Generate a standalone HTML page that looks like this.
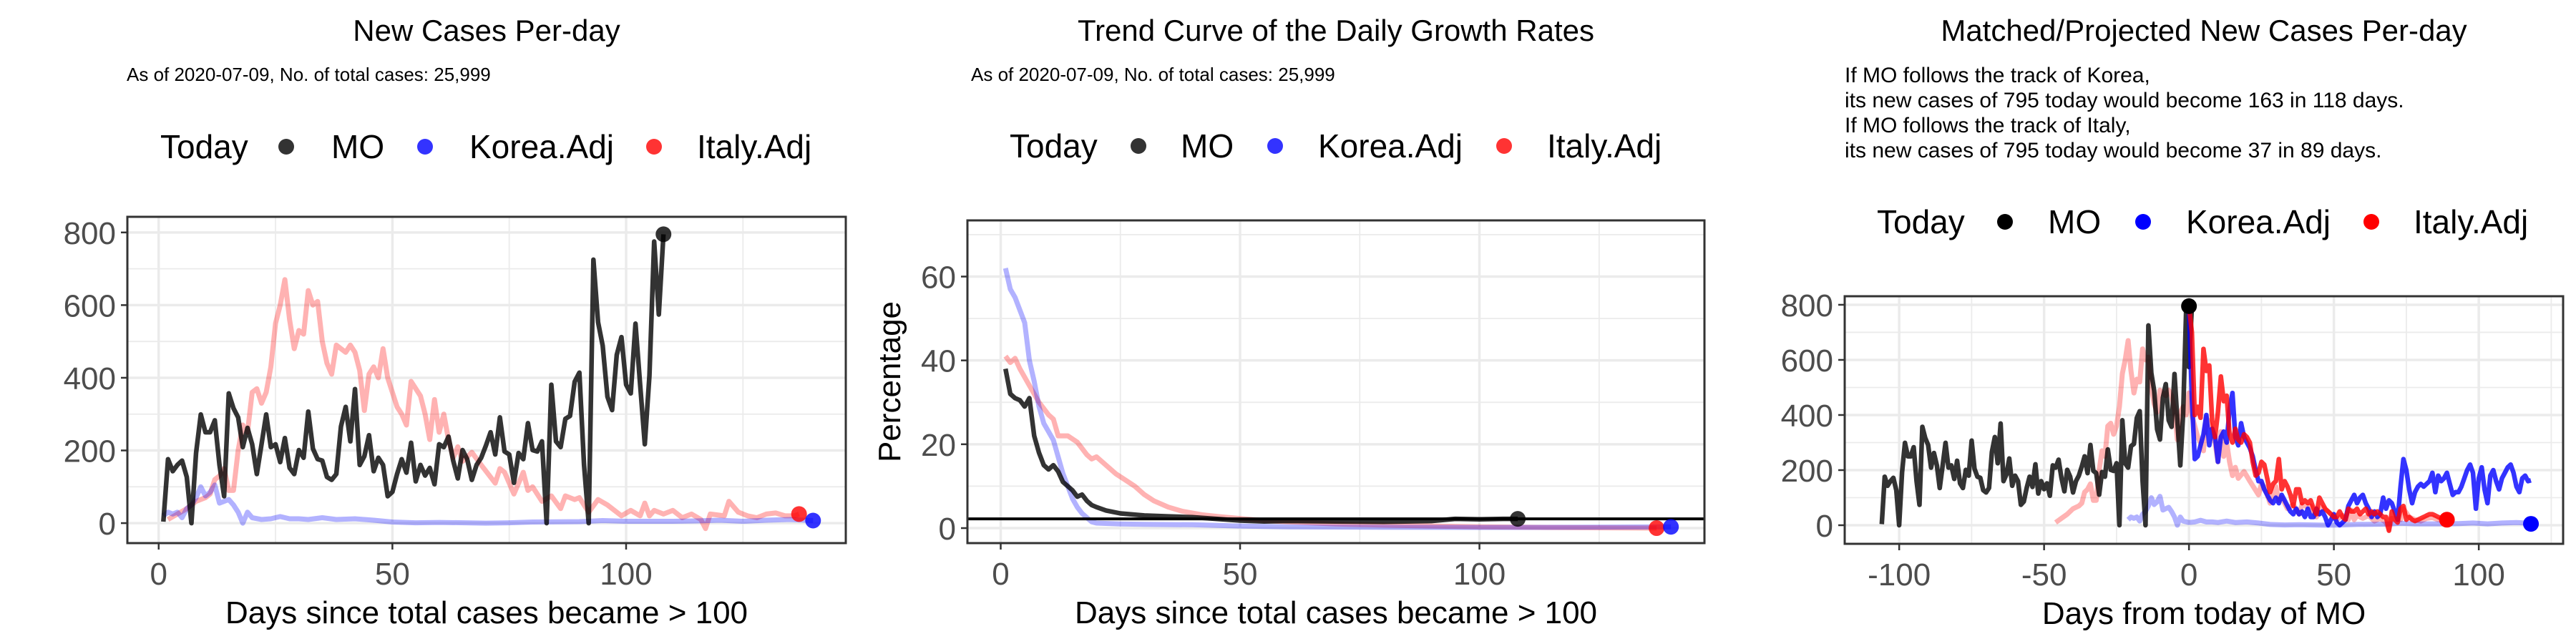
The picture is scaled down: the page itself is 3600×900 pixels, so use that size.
<!DOCTYPE html>
<html><head><meta charset="utf-8"><style>
html,body{margin:0;padding:0;background:#fff;}
svg{display:block;font-family:"Liberation Sans",Arial,sans-serif;}
</style></head><body>
<svg id="chart" width="3600" height="900" viewBox="0 0 3600 900" xmlns="http://www.w3.org/2000/svg">
<rect x="0" y="0" width="3600" height="900" fill="#fff"/>
<g font-size="42" fill="#000" text-anchor="middle">
<text x="680" y="57">New Cases Per-day</text>
<text x="1867" y="57">Trend Curve of the Daily Growth Rates</text>
<text x="3080" y="57">Matched/Projected New Cases Per-day</text>
</g>
<g font-size="26" fill="#000">
<text x="177" y="113">As of 2020-07-09, No. of total cases: 25,999</text>
<text x="1357" y="113">As of 2020-07-09, No. of total cases: 25,999</text>
</g>
<g font-size="30" fill="#000">
<text x="2578" y="115">If MO follows the track of Korea,</text>
<text x="2578" y="150">its new cases of 795 today would become 163 in 118 days.</text>
<text x="2578" y="185">If MO follows the track of Italy,</text>
<text x="2578" y="220">its new cases of 795 today would become 37 in 89 days.</text>
</g>
<g id="layer"></g>
</svg>
<script>
// ---- Data ----
const moDays = [1,2,3,4,5,6,7,8,9,10,11,12,13,14,15,16,17,18,19,20,21,22,23,24,25,26,27,28,29,30,31,32,33,34,35,36,37,38,39,40,41,42,43,44,45,46,47,48,49,50,51,52,53,54,55,56,57,58,59,60,61,62,63,64,65,66,67,68,69,70,71,72,73,74,75,76,77,78,79,80,81,82,83,84,85,86,87,88,89,90,91,92,93,94,95,96,97,98,99,100,101,102,103,104,105,106,107,108];
const moCases = [4,176,143,160,172,127,0,193,299,250,250,283,160,74,357,316,291,209,262,217,135,217,299,209,217,168,234,152,135,201,180,307,205,176,172,127,119,135,266,320,225,369,160,184,242,143,180,160,74,86,135,176,139,221,115,160,131,152,107,217,209,238,172,123,201,176,119,160,180,213,250,189,291,197,189,111,193,176,275,201,197,225,0,381,225,209,287,295,389,414,160,0,725,553,488,348,311,463,512,381,357,549,381,217,406,775,574,795];
const italyDays = [2,4,6,8,10,11,12,13,14,15,16,17,18,19,20,21,22,23,24,25,26,27,28,29,30,31,32,33,34,35,36,37,38,39,40,41,42,43,44,45,46,47,48,49,51,52,53,54,56,57,58,59,60,61,62,63,64,65,67,69,72,73,74,76,78,79,80,82,84,86,87,89,90,91,92,94,96,99,101,103,104,105,106,108,110,112,114,116,117,118,121,122,124,126,128,130,132,134,136,137];
const italyCases = [10,25,40,60,70,80,120,130,150,90,90,200,270,250,360,370,330,360,430,550,600,670,560,480,530,520,640,600,610,500,440,410,490,480,470,490,470,420,310,410,430,400,480,400,320,300,270,390,350,300,230,340,250,300,230,180,210,170,195,160,110,150,140,80,140,90,100,60,75,40,75,65,70,50,30,65,50,20,35,20,55,20,35,25,35,15,25,10,-15,25,20,60,30,20,15,25,28,20,20,25];
const koreaDays = [1,2,3,4,5,6,7,8,9,10,11,12,13,14,15,16,17,18,19,20,22,24,26,28,30,32,35,38,42,46,50,55,60,70,75,80,90,95,100,110,115,120,125,130,135,140];
const koreaCases = [20,30,25,30,15,40,50,70,100,75,85,105,55,60,65,50,30,0,30,15,10,12,18,12,12,10,15,10,12,8,3,1,2,0,1,3,4,7,5,5,6,8,5,8,10,7];
const moGrowthDays = [1,2,3,4,5,6,7,8,9,10,11,12,13,14,15,16,17,18,19,20,22,25,30,35,40,45,50,55,60,70,80,90,95,100,105,108];
const moGrowth = [38,32,31,30.5,29,31,22,18,15,14,15,13.5,11,10,9,7.5,8,6.5,5.5,5,4.2,3.5,3.0,2.8,2.6,2.2,1.8,1.6,1.7,1.6,1.5,1.7,2.2,2.1,2.2,2.2];
const italyGrowthDays = [1,2,3,4,6,8,10,11,12,14,16,18,19,20,22,24,26,28,30,32,35,38,42,46,50,55,60,70,80,90,100,110,120,137];
const italyGrowth = [41,39.5,40.5,38,34,30,27,26,22,22,20.5,17.5,16.5,17,15,13,11.5,10,8,6.5,5,4,3.2,2.7,2.3,1.8,1.5,1.0,0.7,0.5,0.3,0.2,0.1,0];
const koreaGrowthDays = [1,2,3,4,5,6,7,8,9,10,11,12,13,14,15,16,17,18,19,20,25,30,40,50,60,80,100,120,140];
const koreaGrowth = [62,57,55,52,49,40,35,29,25,23,21,17,13,10,7,5,3.5,2.5,1.5,1.2,1,0.9,0.8,0.5,0.3,0.2,0.15,0.2,0.3];
const growthThreshold = 2.2;
const koreaProj = [795,460,240,250,290,330,400,290,350,320,230,320,340,300,420,480,320,290,370,320,300,280,250,200,160,160,130,110,90,80,100,80,110,90,70,50,40,60,40,50,30,60,30,30,60,40,50,30,0,20,40,10,0,10,20,70,90,110,80,100,110,80,60,30,50,30,40,100,60,90,80,50,20,140,240,200,130,80,120,140,150,140,150,160,190,120,180,160,170,190,150,110,120,120,140,170,200,220,190,60,170,210,130,80,180,200,160,130,170,190,210,220,190,140,120,170,180,160,163];
const italyProj = [795,700,400,430,390,640,560,580,380,320,410,540,450,470,330,300,350,310,300,330,320,300,230,180,190,230,220,170,120,150,160,240,130,160,140,110,70,130,130,80,90,80,90,60,40,100,80,60,50,40,30,30,50,30,20,60,50,50,60,40,50,60,40,50,40,50,40,30,30,-20,50,20,10,60,70,20,30,20,15,20,25,30,35,40,40,35,30,25,20,20];
const moShift = -107, italyShift = -48, koreaShift = -22;
const todayP1 = {mo:[108,795], italy:[137,25], korea:[140,7]};
const todayP2 = {mo:[108,2.2], italy:[137,0], korea:[140,0.3]};
const todayP3 = {mo:[0,795], italy:[89,20], korea:[118,5]};
const p1YTicks = [0,200,400,600,800];
const p2YTicks = [0,20,40,60];
const p3YTicks = [0,200,400,600,800];
const p12XTicks = [0,50,100];
const p3XTicks = [-100,-50,0,50,100];

// ---- Helpers ----
const NS = "http://www.w3.org/2000/svg";
const layer = document.getElementById('layer');
function mk(tag, attrs, parent){ const e=document.createElementNS(NS,tag); for(const k in attrs) e.setAttribute(k,attrs[k]); (parent||layer).appendChild(e); return e; }
function makePanel(box, xd, yd){
  return { box,
    x: v => box.l + (v - xd[0])/(xd[1]-xd[0])*(box.r-box.l),
    y: v => box.b - (v - yd[0])/(yd[1]-yd[0])*(box.b-box.t) };
}
function grid(p, xMaj, xMin, yMaj, yMin){
  const g=mk('g',{});
  
  
  const b=p.box;
  yMin.forEach(v=>mk('line',{x1:b.l,x2:b.r,y1:p.y(v),y2:p.y(v),stroke:'#ebebeb','stroke-width':1.8},g));
  xMin.forEach(v=>mk('line',{y1:b.t,y2:b.b,x1:p.x(v),x2:p.x(v),stroke:'#ebebeb','stroke-width':1.8},g));
  yMaj.forEach(v=>mk('line',{x1:b.l,x2:b.r,y1:p.y(v),y2:p.y(v),stroke:'#ebebeb','stroke-width':3.5},g));
  xMaj.forEach(v=>mk('line',{y1:b.t,y2:b.b,x1:p.x(v),x2:p.x(v),stroke:'#ebebeb','stroke-width':3.5},g));
}
function axes(p, xt, yt, xtitle, ytitle, tag){
  const b=p.box;
  const f=mk('rect',{x:b.l,y:b.t,width:b.r-b.l,height:b.b-b.t,fill:'none',stroke:'#333','stroke-width':3});
  
  
  yt.forEach(v=>{
    mk('line',{x1:b.l-9,x2:b.l,y1:p.y(v),y2:p.y(v),stroke:'#333','stroke-width':2.5});
    const t=mk('text',{x:b.l-16,y:p.y(v)+16,'text-anchor':'end','font-size':44,fill:'#4d4d4d'});
    t.textContent=v;
    
    
  });
  xt.forEach(v=>{
    mk('line',{y1:b.b,y2:b.b+9,x1:p.x(v),x2:p.x(v),stroke:'#333','stroke-width':2.5});
    const t=mk('text',{x:p.x(v),y:b.b+58,'text-anchor':'middle','font-size':44,fill:'#4d4d4d'});
    t.textContent=v;
    
    
  });
  const xtl=mk('text',{x:(b.l+b.r)/2,y:b.b+112,'text-anchor':'middle','font-size':44,fill:'#000'});
  xtl.textContent=xtitle;
  
  
  if(ytitle){
    const cy=(b.t+b.b)/2;
    const ytl=mk('text',{x:1258,y:cy,'text-anchor':'middle','font-size':44,fill:'#000',transform:`rotate(-90 1258 ${cy})`});
    ytl.textContent=ytitle;
    
    
  }
}
function line(p, xs, ys, shift, color, op, w, name){
  const pts=xs.map((d,i)=>p.x(d+shift).toFixed(1)+','+p.y(ys[i]).toFixed(1)).join(' ');
  const e=mk('polyline',{points:pts,fill:'none',stroke:color,'stroke-opacity':op,'stroke-width':w,'stroke-linejoin':'round'});
  
  
}
function seqLine(p, ys, color, op, w, name){
  line(p, ys.map((_,i)=>i), ys, 0, color, op, w, name);
}
function dot(p, pt, color, op, name){
  const e=mk('circle',{cx:p.x(pt[0]),cy:p.y(pt[1]),r:11,fill:color,'fill-opacity':op});
  
  
}
function legend(y, xs, op, tag){
  const g=mk('g',{'font-size':46,fill:'#000'});
  
  
  const t=mk('text',{x:xs[0],y:y+16},g); t.textContent='Today';
  const items=[['MO','#000'],['Korea.Adj','#0000ff'],['Italy.Adj','#ff0000']];
  items.forEach((it,i)=>{
    const c=mk('circle',{cx:xs[1+i*2],cy:y,r:11,fill:it[1],'fill-opacity':op},g);
    
    
    const tx=mk('text',{x:xs[2+i*2],y:y+16},g); tx.textContent=it[0];
    
    
  });
}

// ---- Panel 1 ----
const p1 = makePanel({l:178,t:303,r:1182,b:759},[-6.7,147],[-55,843]);
grid(p1,p12XTicks,[25,75,125],p1YTicks,[100,300,500,700]);
line(p1,italyDays,italyCases,0,'#ff0000',0.3,7,'p1-italy-line');
line(p1,koreaDays,koreaCases,0,'#0000ff',0.3,7,'p1-korea-line');
line(p1,moDays,moCases,0,'#000',0.8,6.5,'p1-mo-line');
dot(p1,todayP1.mo,'#000',0.8,'p1-today-mo');
dot(p1,todayP1.italy,'#ff0000',0.8,'p1-today-italy');
dot(p1,todayP1.korea,'#0000ff',0.8,'p1-today-korea');
axes(p1,p12XTicks,p1YTicks,'Days since total cases became > 100',null,'p1');
legend(205,[224,400,463,594,656,914,974],0.8,'p1');

// ---- Panel 2 ----
const p2 = makePanel({l:1352,t:308,r:2382,b:759},[-6.95,147],[-3.58,73.4]);
grid(p2,p12XTicks,[25,75,125],p2YTicks,[10,30,50,70]);
line(p2,italyGrowthDays,italyGrowth,0,'#ff0000',0.3,7,'p2-italy-line');
line(p2,koreaGrowthDays,koreaGrowth,0,'#0000ff',0.3,7,'p2-korea-line');
line(p2,moGrowthDays,moGrowth,0,'#000',0.8,6.5,'p2-mo-line');
(function(){const e=mk('line',{x1:1352,x2:2382,y1:p2.y(growthThreshold),y2:p2.y(growthThreshold),stroke:'#000','stroke-width':4});

})();
dot(p2,todayP2.mo,'#000',0.8,'p2-today-mo');
dot(p2,todayP2.italy,'#ff0000',0.8,'p2-today-italy');
dot(p2,todayP2.korea,'#0000ff',0.8,'p2-today-korea');
axes(p2,p12XTicks,p2YTicks,'Days since total cases became > 100','Percentage','p2');
legend(204,[1411,1591,1650,1782,1842,2102,2162],0.8,'p2');

// ---- Panel 3 ----
const p3 = makePanel({l:2578,t:414,r:3582,b:760},[-118.8,129.1],[-67.5,831]);
grid(p3,p3XTicks,[-75,-25,25,75,125],p3YTicks,[100,300,500,700]);
line(p3,italyDays,italyCases,italyShift,'#ff0000',0.3,7,'p3-italy-matched-line');
line(p3,koreaDays,koreaCases,koreaShift,'#0000ff',0.3,7,'p3-korea-matched-line');
line(p3,moDays,moCases,moShift,'#000',0.8,6.5,'p3-mo-line');
seqLine(p3,koreaProj,'#0000ff',0.8,6.5,'p3-korea-projection');
seqLine(p3,italyProj,'#ff0000',0.8,6.5,'p3-italy-projection');
dot(p3,todayP3.mo,'#000',1,'p3-today-mo');
dot(p3,todayP3.italy,'#ff0000',1,'p3-today-italy');
dot(p3,todayP3.korea,'#0000ff',1,'p3-today-korea');
axes(p3,p3XTicks,p3YTicks,'Days from today of MO',null,'p3');
legend(310,[2623,2802,2862,2995,3055,3314,3373],1,'p3');
</script>
</body></html>
